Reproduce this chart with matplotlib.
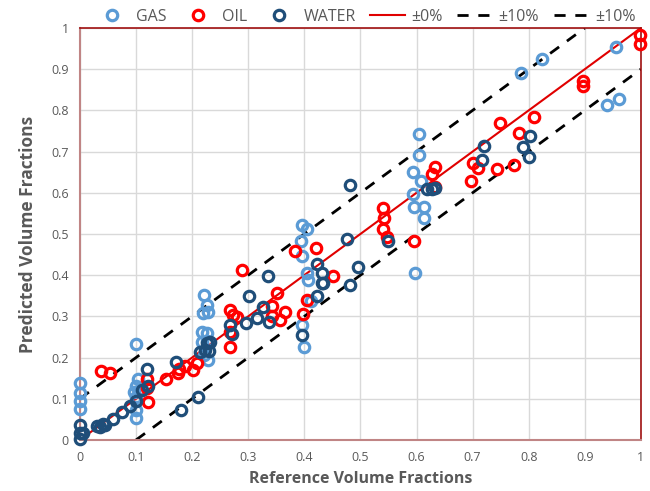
import matplotlib
matplotlib.use("Agg")
import matplotlib.pyplot as plt

gas_x = [0, 0, 0, 0, 0.1, 0.103, 0.1, 0.096, 0.105, 0.1, 0.1, 0.1,
         0.221, 0.226, 0.228, 0.219, 0.217, 0.226, 0.217, 0.228, 0.221, 0.226,
         0.396, 0.405, 0.394, 0.396, 0.404, 0.406, 0.412, 0.396, 0.399,
         0.605, 0.605, 0.594, 0.608, 0.594, 0.595, 0.613, 0.613, 0.597,
         0.786, 0.823, 0.955, 0.939, 0.961]
gas_y = [0.138, 0.114, 0.094, 0.076, 0.233, 0.148, 0.131, 0.117, 0.12, 0.105, 0.073, 0.053,
         0.352, 0.328, 0.311, 0.308, 0.262, 0.26, 0.238, 0.194, 0.206, 0.24,
         0.522, 0.512, 0.483, 0.447, 0.405, 0.388, 0.337, 0.279, 0.226,
         0.743, 0.692, 0.65, 0.629, 0.597, 0.566, 0.566, 0.538, 0.405,
         0.891, 0.925, 0.954, 0.813, 0.828]

oil_x = [0.037, 0.053, 0.119, 0.119, 0.121, 0.153, 0.174, 0.176, 0.187, 0.201, 0.209,
         0.267, 0.273, 0.28, 0.267, 0.267, 0.288,
         0.351, 0.343, 0.342, 0.356, 0.366, 0.397, 0.404, 0.384, 0.421, 0.451,
         0.541, 0.542, 0.541, 0.547, 0.595, 0.633, 0.627, 0.633,
         0.697, 0.7, 0.71, 0.743, 0.749, 0.774, 0.782, 0.809,
         0.897, 0.897, 0.998, 0.998]
oil_y = [0.168, 0.163, 0.148, 0.126, 0.092, 0.147, 0.163, 0.172, 0.18, 0.169, 0.187,
         0.315, 0.304, 0.298, 0.262, 0.226, 0.413,
         0.357, 0.324, 0.302, 0.291, 0.31, 0.305, 0.34, 0.458, 0.466, 0.397,
         0.563, 0.539, 0.512, 0.493, 0.482, 0.663, 0.646, 0.614,
         0.629, 0.672, 0.66, 0.658, 0.769, 0.668, 0.745, 0.784,
         0.871, 0.86, 0.983, 0.961]

water_x = [0, 0, 0, 0.006, 0.03, 0.036, 0.041, 0.045, 0.059, 0.075, 0.089, 0.1, 0.11, 0.122,
           0.119, 0.171, 0.18, 0.21,
           0.214, 0.223, 0.226, 0.23, 0.232, 0.267, 0.271, 0.296, 0.301, 0.316, 0.327, 0.337,
           0.336, 0.396,
           0.422, 0.432, 0.431, 0.434, 0.422, 0.496, 0.481, 0.481, 0.476, 0.549,
           0.618, 0.627, 0.633, 0.72, 0.716, 0.802, 0.79, 0.8]
water_y = [0.036, 0.018, 0.003, 0.017, 0.034, 0.032, 0.038, 0.036, 0.052, 0.068, 0.083, 0.095, 0.121, 0.13,
           0.172, 0.189, 0.073, 0.105,
           0.214, 0.218, 0.235, 0.216, 0.238, 0.279, 0.257, 0.284, 0.35, 0.296, 0.323, 0.286,
           0.398, 0.254,
           0.427, 0.406, 0.38, 0.38, 0.349, 0.42, 0.376, 0.619, 0.488, 0.483,
           0.609, 0.61, 0.612, 0.714, 0.68, 0.738, 0.711, 0.687]

ticks = [0, 0.1, 0.2, 0.3, 0.4, 0.5, 0.6, 0.7, 0.8, 0.9, 1]
tick_labels = ["0", "0.1", "0.2", "0.3", "0.4", "0.5", "0.6", "0.7", "0.8", "0.9", "1"]

plt.rcParams['font.family'] = ['Open Sans', 'DejaVu Sans']
text_col = '#595959'

fig = plt.figure(figsize=(6.5, 4.91), dpi=100)
ax = fig.add_axes([0.123, 0.104, 0.863, 0.839])

ms = 7.5
mew = 2.3
ax.plot([0, 1], [0, 1], color='#E00000', lw=1.5, zorder=2, label='±0%')
ax.plot([0, 0.9], [0.1, 1], color='black', lw=2, ls=(0, (4, 3.5)), zorder=2, label='±10%')
ax.plot([0.1, 1], [0, 0.9], color='black', lw=2, ls=(0, (4, 3.5)), zorder=2, label='±10%')

ax.plot(gas_x, gas_y, 'o', mfc='none', mec='#5B9BD5', ms=ms, mew=mew, zorder=3, label='GAS', clip_on=False)
ax.plot(oil_x, oil_y, 'o', mfc='none', mec='#FF0000', ms=ms, mew=mew, zorder=3, label='OIL', clip_on=False)
ax.plot(water_x, water_y, 'o', mfc='none', mec='#1F4E79', ms=ms, mew=mew, zorder=3, label='WATER', clip_on=False)

ax.set_xlim(0, 1)
ax.set_ylim(0, 1)
ax.set_xticks(ticks)
ax.set_xticklabels(tick_labels)
ax.set_yticks(ticks)
ax.set_yticklabels(tick_labels)
ax.tick_params(length=0, labelsize=9, colors=text_col, pad=8)
ax.grid(True, color='#D9D9D9', lw=1)
ax.set_axisbelow(True)
for s in ['top', 'right']:
    ax.spines[s].set_color('#A01010')
    ax.spines[s].set_linewidth(1.2)
for s in ['left', 'bottom']:
    ax.spines[s].set_color('#C08585')
    ax.spines[s].set_linewidth(1.5)

ax.set_xlabel('Reference Volume Fractions', fontsize=11.5, fontweight='bold', color=text_col, labelpad=5)
ax.set_ylabel('Predicted Volume Fractions', fontsize=12.5, fontweight='bold', color=text_col, labelpad=10)

h, l = ax.get_legend_handles_labels()
order = [3, 4, 5, 0, 1, 2]
leg = fig.legend([h[i] for i in order], [l[i] for i in order], loc='center',
                 bbox_to_anchor=(365 / 650, 1 - 17 / 491), ncol=6, frameon=False,
                 fontsize=11.5, handlelength=2.2, handletextpad=0.4, columnspacing=0.9)
for t in leg.get_texts():
    t.set_color(text_col)

fig.savefig('out.png', dpi=100)
